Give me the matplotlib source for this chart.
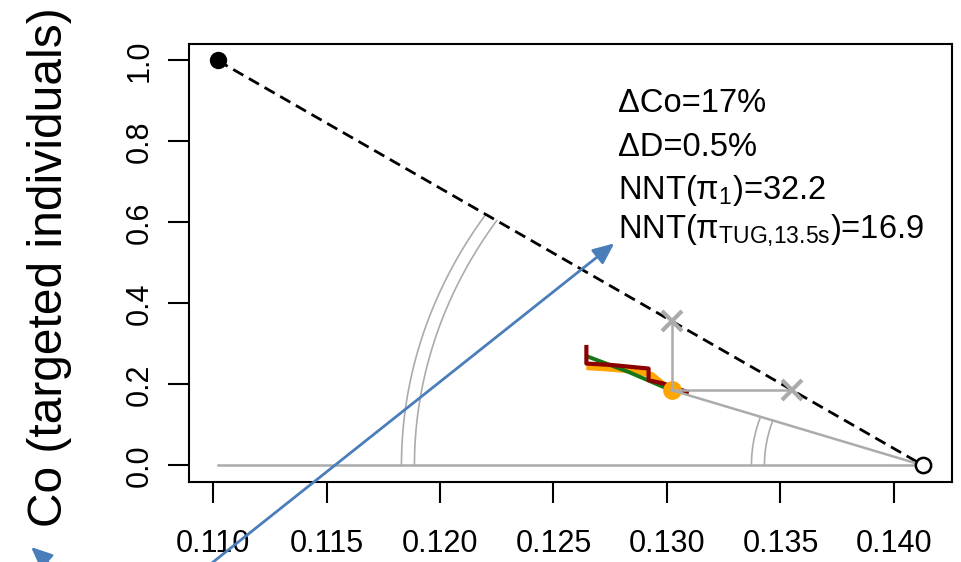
import numpy as np
import matplotlib
matplotlib.use('Agg')
import matplotlib.pyplot as plt

plt.rcParams['font.family'] = ['Liberation Sans', 'DejaVu Sans']
plt.rcParams['mathtext.fontset'] = 'custom'
plt.rcParams['mathtext.rm'] = 'Liberation Sans'
plt.rcParams['mathtext.it'] = 'Liberation Sans:italic'
plt.rcParams['mathtext.bf'] = 'Liberation Sans:bold'

# ---------------- data ----------------
ref_start = [0.1102, 1.0]        # filled black point
ref_end = [0.1413, 0.0]          # open circle
strategy_point = [0.1302, 0.186]  # orange point

red_x = [0.12645, 0.12645, 0.12760, 0.12919, 0.12919, 0.12985, 0.13088]
red_y = [0.2926, 0.2517, 0.2480, 0.2393, 0.2105, 0.2023, 0.1816]
green_x = [0.12655, 0.12831, 0.13000]
green_y = [0.2680, 0.2309, 0.1900]
orange_x = [0.12645, 0.12750, 0.12868, 0.12934, 0.13014]
orange_y = [0.2433, 0.2393, 0.2334, 0.2228, 0.1860]

x_ticks = [0.110, 0.115, 0.120, 0.125, 0.130, 0.135, 0.140]
x_tick_labels = ["0.110", "0.115", "0.120", "0.125", "0.130", "0.135", "0.140"]
y_ticks = [0.0, 0.2, 0.4, 0.6, 0.8, 1.0]
y_tick_labels = ["0.0", "0.2", "0.4", "0.6", "0.8", "1.0"]
y_label = "Co (targeted individuals)"

annot_lines = ["\u0394Co=17%", "\u0394D=0.5%",
               r"NNT($\mathrm{\pi}_{\mathrm{1}}$)=32.2",
               r"NNT($\mathrm{\pi}_{\mathrm{TUG{,}13.5s}}$)=16.9"]
annot_x = 0.12785
annot_y = [0.8720, 0.7650, 0.6590, 0.5630]

arrow_tip = [0.12768, 0.5485]
arrow_tail = [0.10790, -0.332]

# ---------------- style ----------------
GRAY = '#ababab'
BLUE = '#4a7ebb'
ASPECT = 1.133           # horizontal stretch of arcs (pixel space)
big_arc_r = [522, 509]   # horizontal radius in pixels
small_arc_r = [172, 159]

fig = plt.figure(figsize=(9.61, 5.62), dpi=100)
ax = fig.add_axes([0.197, 0.1429, 0.7933, 0.7783])

dx = ref_end[0] - ref_start[0]
ax.set_xlim(ref_start[0] - 0.04 * dx, ref_end[0] + 0.04 * dx)
ax.set_ylim(-0.04, 1.04)

# baseline
ax.plot([ref_start[0], ref_end[0]], [0, 0], color=GRAY, lw=1.8, zorder=2)
# dashed reference line
ax.plot([ref_start[0], ref_end[0]], [ref_start[1], ref_end[1]], color='black',
        lw=2.0, ls=(0, (4.2, 2.3)), zorder=3)

# gray construction lines
slope = (ref_end[1] - ref_start[1]) / (ref_end[0] - ref_start[0])
y_on_dash = ref_start[1] + slope * (strategy_point[0] - ref_start[0])
x_on_dash = ref_start[0] + (strategy_point[1] - ref_start[1]) / slope
ax.plot([strategy_point[0], ref_end[0]], [strategy_point[1], ref_end[1]],
        color=GRAY, lw=1.8, zorder=6)
ax.plot([strategy_point[0], strategy_point[0]], [strategy_point[1], y_on_dash],
        color=GRAY, lw=1.8, zorder=6)
ax.plot([strategy_point[0], x_on_dash], [strategy_point[1], strategy_point[1]],
        color=GRAY, lw=1.8, zorder=6)
ax.plot([strategy_point[0], x_on_dash], [y_on_dash, strategy_point[1]],
        ls='none', marker='x', ms=14, mew=3, color=GRAY, zorder=6)

# arcs
def draw_arc(r_px, end_pt):
    c = ax.transData.transform(ref_end)
    e = ax.transData.transform(end_pt)
    t_end = np.arctan2((e[1] - c[1]), (c[0] - e[0]) / ASPECT)
    t = np.linspace(0, t_end, 100)
    px = c[0] - r_px * np.cos(t)
    py = c[1] + (r_px / ASPECT) * np.sin(t)
    pts = ax.transData.inverted().transform(np.column_stack([px, py]))
    ax.plot(pts[:, 0], pts[:, 1], color=GRAY, lw=1.2, zorder=2)

for r in big_arc_r:
    draw_arc(r, ref_start)
for r in small_arc_r:
    draw_arc(r, strategy_point)

# curves
ax.plot(orange_x, orange_y, color='orange', lw=4.5, zorder=4, solid_capstyle='butt')
ax.plot(green_x, green_y, color='#167516', lw=2.8, zorder=4)
ax.plot(red_x, red_y, color='#8b0000', lw=3.0, zorder=5)
ax.plot([strategy_point[0]], [strategy_point[1]], 'o', color='orange', ms=12.5, zorder=5.5)

# end points
ax.plot([ref_start[0]], [ref_start[1]], 'o', color='black', ms=11.5, zorder=7)
ax.plot([ref_end[0]], [ref_end[1]], 'o', mfc='white', mec='black', ms=11, mew=1.8, zorder=7)

# annotation text
for s, yy in zip(annot_lines, annot_y):
    ax.text(annot_x, yy, s, fontsize=23.5, ha='left', va='baseline', zorder=8)

# blue arrow
ax.annotate('', xy=arrow_tip, xytext=arrow_tail,
            arrowprops=dict(arrowstyle='-|>,head_length=0.8,head_width=0.35',
                            color=BLUE, lw=2, shrinkA=0, shrinkB=0,
                            mutation_scale=16),
            annotation_clip=False, zorder=9)
ax.annotate('', xy=(31, 15), xycoords='figure pixels',
            xytext=(52, -4), textcoords='figure pixels',
            arrowprops=dict(arrowstyle='-|>,head_length=0.8,head_width=0.35',
                            color=BLUE, lw=2, shrinkA=0, shrinkB=0,
                            mutation_scale=16),
            annotation_clip=False)

# axes styling
for sp in ax.spines.values():
    sp.set_linewidth(1.5)
ax.set_xticks(x_ticks)
ax.set_xticklabels(x_tick_labels)
ax.set_yticks(y_ticks)
ax.set_yticklabels(y_tick_labels, rotation=90, va='center')
ax.tick_params(axis='both', direction='out', length=15, width=1.5)
ax.tick_params(axis='x', labelsize=22, pad=19)
ax.tick_params(axis='y', labelsize=22, pad=10)

fig.text(50 / 961, 1 - 267.5 / 562, y_label, rotation=90, ha='center', va='center',
         fontsize=34.5)

fig.savefig('out.png', dpi=100)
